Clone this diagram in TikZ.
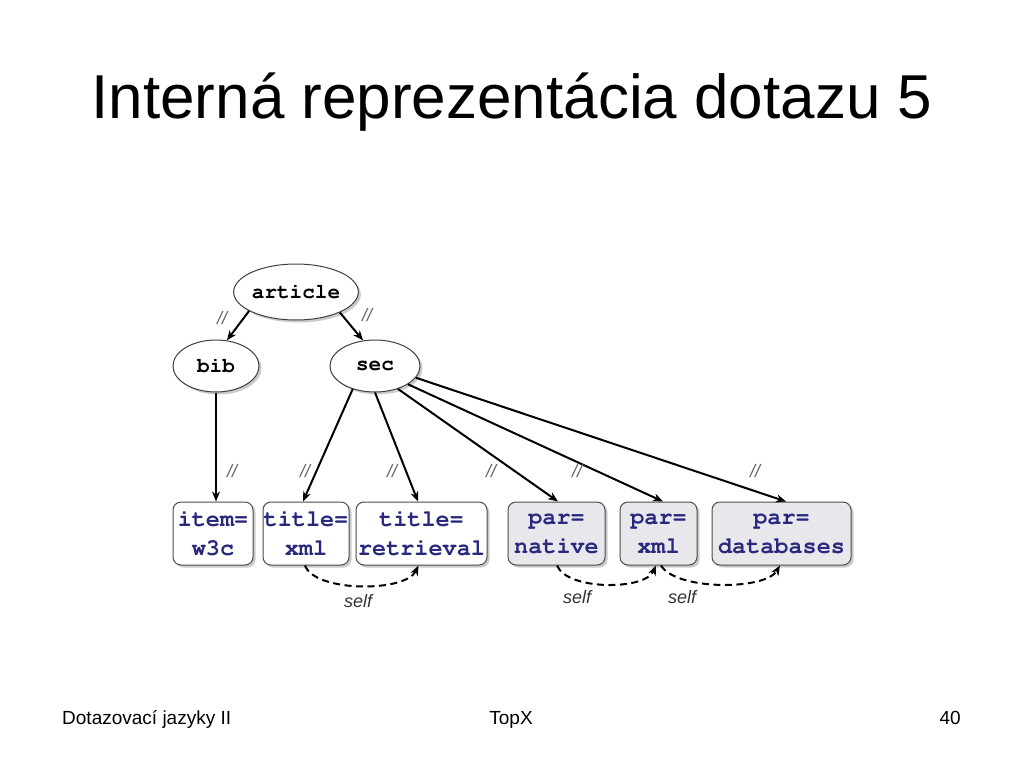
\documentclass[tikz,border=0pt]{standalone}
\usepackage[T1]{fontenc}
\usepackage{fontspec}
\setmainfont{Liberation Sans}
\setmonofont{Liberation Mono}
\usetikzlibrary{arrows.meta,shapes.geometric,shadows,calc}
\definecolor{boxtext}{RGB}{40,40,125}
\definecolor{parfill}{RGB}{232,232,236}
\newcommand{\courb}{\fontencoding{T1}\fontfamily{pcr}\fontseries{b}\selectfont}
\begin{document}
\begin{tikzpicture}[x=1pt,y=-1pt,
  shad/.style={drop shadow={shadow xshift=2.5pt,shadow yshift=-2.5pt,fill=black!40}},
  elnode/.style={ellipse, draw=black!75, line width=1pt, fill=white, inner sep=0pt, shad,
    font=\fontsize{21}{24}\courb},
  boxnode/.style={rounded corners=8pt, draw=black!70, line width=1pt, fill=white, inner sep=0pt, shad,
    minimum height=63pt, align=center, text=boxtext,
    font=\fontsize{23.5}{29}\courb},
  parnode/.style={boxnode, fill=parfill},
  edgearrow/.style={-{Stealth[length=10pt,width=8pt]}, line width=2pt},
  selfedge/.style={edgearrow, dash pattern=on 7pt off 4.5pt},
  slash/.style={font=\fontsize{18}{18}\selectfont\itshape, text=black!60},
  selflab/.style={font=\fontsize{18}{18}\selectfont\itshape, text=black!80}
]
\useasboundingbox[fill=white] (0,0) rectangle (1024,768);

% title and footer
\node[anchor=base, font=\fontsize{62}{70}\selectfont] (title) at (512,118) {Interná reprezentácia dotazu 5};
\node[anchor=base west, font=\fontsize{19}{22}\selectfont, inner sep=0pt] (foot1) at (62,724) {Dotazovací jazyky II};
\node[anchor=base, font=\fontsize{19}{22}\selectfont, inner sep=0pt] (foot2) at (511,724) {TopX};
\node[anchor=base east, font=\fontsize{19}{22}\selectfont, inner sep=0pt] (foot3) at (961,724) {40};

% tree nodes
\node[elnode, minimum width=98pt, minimum height=56pt] (article) at (296,292) {article};
\node[elnode, minimum width=86pt, minimum height=52pt] (bib) at (216,366) {bib};
\node[elnode, minimum width=90pt, minimum height=52pt] (sec) at (375,366) {sec};

\node[boxnode, minimum width=80pt] (item) at (213,533.5) {item=\\w3c};
\node[boxnode, minimum width=86pt] (txml) at (306,533.5) {title=\\xml};
\node[boxnode, minimum width=131pt] (tret) at (421.5,533.5) {title=\\retrieval};
\node[parnode, minimum width=97pt] (pnat) at (556.5,533.5) {par=\\native};
\node[parnode, minimum width=77pt] (pxml) at (658.5,533.5) {par=\\xml};
\node[parnode, minimum width=139pt] (pdb) at (781.5,533.5) {par=\\databases};

% connectors
\draw[edgearrow] (article.202) -- (bib.67);
\draw[edgearrow] (article.-25) -- (sec.115);
\draw[edgearrow] (bib.south) -- (bib.south |- item.north);
\draw[edgearrow] (sec.226) -- ([xshift=-3pt]txml.north);
\draw[edgearrow] (sec.south) -- ([xshift=-3.5pt]tret.north);
\draw[edgearrow] (sec.-45) -- ([xshift=1.5pt]pnat.north);
\draw[edgearrow] (sec.-29) -- ([xshift=4.5pt]pxml.north);
\draw[edgearrow] (sec.-16) -- ([xshift=4.5pt]pdb.north);

% self connectors
\draw[selfedge] ([xshift=-1pt]txml.south) .. controls +(10,27) and +(-13,27) .. ([xshift=-3pt]tret.south);
\draw[selfedge] ([xshift=0.5pt]pnat.south) .. controls +(10,25) and +(-11,25) .. ([xshift=-2.5pt]pxml.south);
\draw[selfedge] ([xshift=2.5pt]pxml.south) .. controls +(15,25) and +(-15,25) .. ([xshift=-1.5pt]pdb.south);

% labels
\node[slash] (s1) at (222,318) {//};
\node[slash] (s2) at (367,315) {//};
\node[slash] (s3) at (232,471) {//};
\node[slash] (s4) at (305,471) {//};
\node[slash] (s5) at (392,471) {//};
\node[slash] (s6) at (491,471) {//};
\node[slash] (s7) at (577,471) {//};
\node[slash] (s8) at (755,471) {//};
\node[selflab] (l1) at (358,601) {self};
\node[selflab] (l2) at (577,597) {self};
\node[selflab] (l3) at (682,597) {self};
\end{tikzpicture}
\end{document}
